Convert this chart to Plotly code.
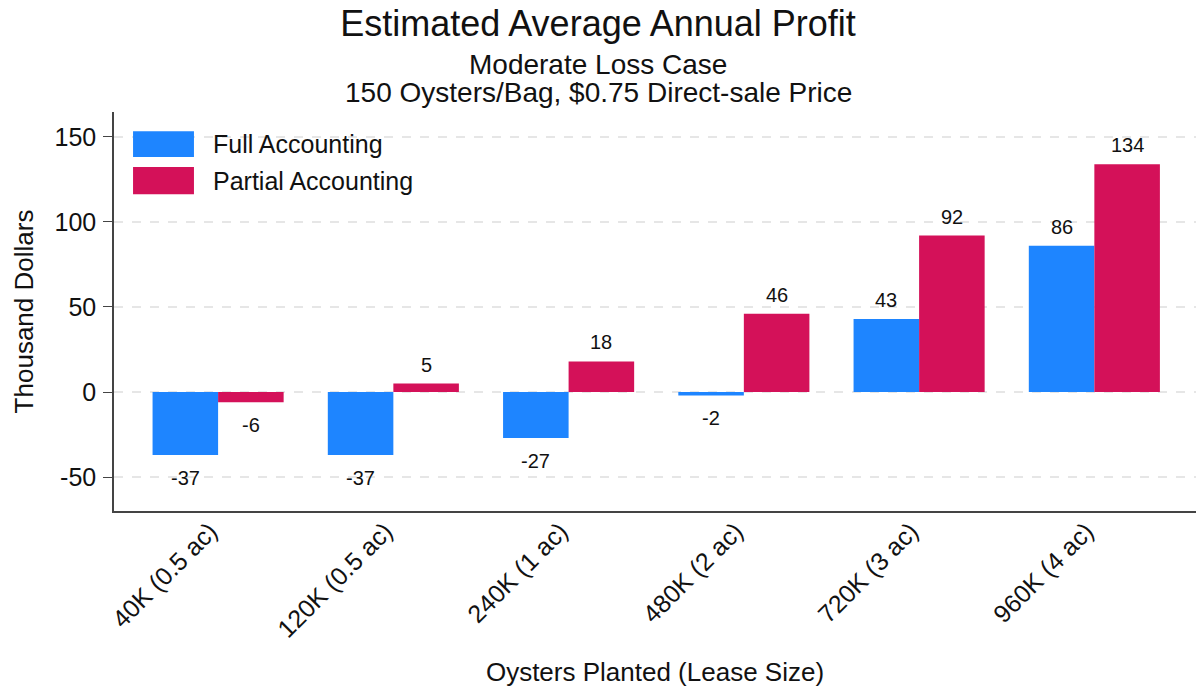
import plotly.graph_objects as go

categories = ["40K (0.5 ac)", "120K (0.5 ac)", "240K (1 ac)", "480K (2 ac)", "720K (3 ac)", "960K (4 ac)"]
full_accounting = [-37, -37, -27, -2, 43, 86]
partial_accounting = [-6, 5, 18, 46, 92, 134]
series_names = ["Full Accounting", "Partial Accounting"]
y_tick_values = [-50, 0, 50, 100, 150]
y_tick_labels = ["-50", "0", "50", "100", "150"]
colors = ["#1E85FF", "#D41159"]

FONT = "Liberation Sans, Arial, sans-serif"
TXT = "#111111"

fig = go.Figure()
for name, vals, col in zip(series_names, [full_accounting, partial_accounting], colors):
    fig.add_trace(go.Bar(x=categories, y=vals, name=name, marker=dict(color=col, line=dict(width=0)),
                         showlegend=False))

# value labels
bar_off = 32.75
for vals, shift in [(full_accounting, -bar_off), (partial_accounting, bar_off)]:
    for c, v in zip(categories, vals):
        fig.add_annotation(x=c, y=v, text=str(v), showarrow=False, xshift=shift,
                           yshift=19 if v >= 0 else -23, yanchor="middle",
                           font=dict(family=FONT, size=20, color=TXT))

# custom legend
fig.add_shape(type="rect", xref="paper", yref="paper", x0=0.002, x1=0.297, y0=0.77, y1=0.99,
              fillcolor="white", line=dict(width=0), layer="below")
legend_boxes = [(0.887, 0.952, 0.920), (0.794, 0.862, 0.827)]
for name, col, (y0, y1, yt) in zip(series_names, colors, legend_boxes):
    fig.add_shape(type="rect", xref="paper", yref="paper", x0=0.0176, x1=0.0739, y0=y0, y1=y1,
                  fillcolor=col, line=dict(width=0))
    fig.add_annotation(xref="paper", yref="paper", x=0.0896, y=yt, text=name, showarrow=False,
                       xanchor="left", yanchor="middle", font=dict(family=FONT, size=25, color=TXT))

# subtitles
CX = (598 - 114) / 1082
for txt, yy in [("Moderate Loss Case", 1.1203), ("150 Oysters/Bag, $0.75 Direct-sale Price", 1.050)]:
    fig.add_annotation(xref="paper", yref="paper", x=CX, y=yy, text=txt, showarrow=False,
                       xanchor="center", yanchor="middle", font=dict(family=FONT, size=28, color=TXT))

fig.update_layout(
    width=1196, height=696,
    margin=dict(l=114, r=0, t=112, b=185, autoexpand=False),
    paper_bgcolor="white", plot_bgcolor="white",
    barmode="group", bargap=0.252, bargroupgap=0,
    font=dict(family=FONT, size=25, color=TXT),
    title=dict(text="Estimated Average Annual Profit", xref="paper", x=CX, xanchor="center",
               y=1 - 23 / 696, yanchor="middle", font=dict(family=FONT, size=36, color=TXT)),
    xaxis=dict(range=[-0.594, 5.58], tickangle=-45, showline=True, linecolor="#444", linewidth=1.5,
               ticks="", showgrid=False, tickfont=dict(size=25), automargin=False,
               ticklabelshift=-8, ticklabelstandoff=-6,
               title=dict(text="Oysters Planted (Lease Size)", font=dict(size=26), standoff=21)),
    yaxis=dict(range=[-70, 164.7], tickvals=y_tick_values, ticktext=y_tick_labels, showline=True,
               linecolor="#444", linewidth=1.5, ticks="outside", ticklen=9, tickcolor="#444", zeroline=False,
               showgrid=True, gridcolor="#E6E6E6", griddash="dash", gridwidth=1.5,
               tickfont=dict(size=25), automargin=False, ticklabelstandoff=2,
               title=dict(text="Thousand Dollars", font=dict(size=26), standoff=13)),
)

fig.write_html("out.html", config={"displayModeBar": False},
               post_script="document.body.style.margin='0';")
